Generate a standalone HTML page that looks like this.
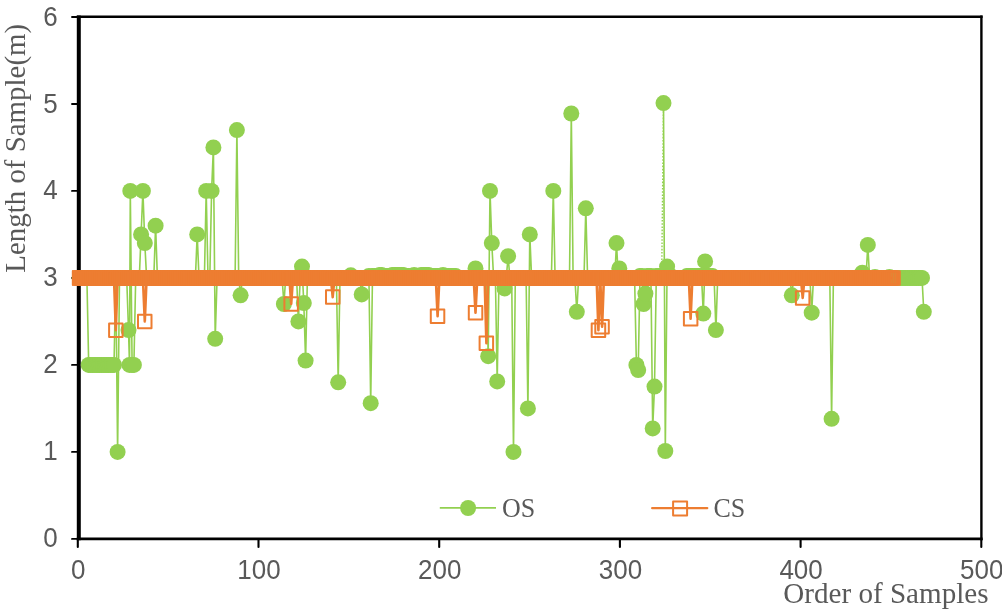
<!DOCTYPE html>
<html><head><meta charset="utf-8"><title>Chart</title>
<style>html,body{margin:0;padding:0;background:#fff}svg{display:block}</style></head>
<body>
<svg width="1002" height="612" viewBox="0 0 1002 612">
<rect width="1002" height="612" fill="#fff"/>
<g stroke="#000" fill="none">
<line x1="78.8" y1="15.5" x2="78.8" y2="540.2" stroke-width="4"/>
<line x1="76.8" y1="538.86" x2="982.6" y2="538.86" stroke-width="2.7"/>
<line x1="76.8" y1="16.7" x2="982.6" y2="16.7" stroke-width="2.4"/>
<line x1="981.4" y1="15.5" x2="981.4" y2="540.2" stroke-width="2.4"/>
<g stroke-linecap="round">
<line x1="72" y1="538.9" x2="78" y2="538.9" stroke-width="1.9"/>
<line x1="72" y1="451.9" x2="78" y2="451.9" stroke-width="1.9"/>
<line x1="72" y1="364.9" x2="78" y2="364.9" stroke-width="1.9"/>
<line x1="72" y1="277.9" x2="78" y2="277.9" stroke-width="1.9"/>
<line x1="72" y1="190.9" x2="78" y2="190.9" stroke-width="1.9"/>
<line x1="72" y1="104.0" x2="78" y2="104.0" stroke-width="1.9"/>
<line x1="72" y1="17.0" x2="78" y2="17.0" stroke-width="1.9"/>
<line x1="77.8" y1="539" x2="77.8" y2="547" stroke-width="2.1"/>
<line x1="258.5" y1="539" x2="258.5" y2="547" stroke-width="2.1"/>
<line x1="439.2" y1="539" x2="439.2" y2="547" stroke-width="2.1"/>
<line x1="619.9" y1="539" x2="619.9" y2="547" stroke-width="2.1"/>
<line x1="800.6" y1="539" x2="800.6" y2="547" stroke-width="2.1"/>
<line x1="981.3" y1="539" x2="981.3" y2="547" stroke-width="2.1"/>
</g></g>
<polyline points="79.7,277.9 81.5,277.9 83.3,277.9 85.1,277.9 86.9,277.9 88.7,364.9 90.5,364.9 92.3,364.9 94.1,364.9 96.0,364.9 97.8,364.9 99.6,364.9 101.4,364.9 103.2,364.9 105.0,364.9 106.8,364.9 108.6,364.9 110.4,364.9 112.2,364.9 114.0,364.9 115.8,277.9 117.6,451.9 119.5,277.9 121.3,277.9 123.1,277.9 124.9,277.9 126.7,277.9 128.5,330.1 129.5,364.9 130.3,190.9 132.1,364.9 133.9,364.9 135.7,277.9 137.5,277.9 139.3,277.9 141.1,234.4 142.9,190.9 144.8,243.1 146.6,277.9 148.4,277.9 150.2,277.9 152.0,277.9 153.8,277.9 155.6,225.7 157.4,277.9 159.2,277.9 161.0,277.9 162.8,277.9 164.6,277.9 166.4,277.9 168.3,277.9 170.1,277.9 171.9,277.9 173.7,277.9 175.5,277.9 177.3,277.9 179.1,277.9 180.9,277.9 182.7,277.9 184.5,277.9 186.3,277.9 188.1,277.9 189.9,277.9 191.8,277.9 193.6,277.9 195.4,277.9 197.2,234.4 199.0,277.9 200.8,277.9 202.6,277.9 204.4,277.9 206.2,190.9 208.0,277.9 209.8,277.9 211.6,190.9 213.4,147.4 215.2,338.8 217.1,277.9 218.9,277.9 220.7,277.9 222.5,277.9 224.3,277.9 226.1,277.9 227.9,277.9 229.7,277.9 231.5,277.9 233.3,277.9 235.1,277.9 236.9,130.1 238.7,277.9 240.6,295.3 242.4,277.9 244.2,277.9 246.0,277.9 247.8,277.9 249.6,277.9 251.4,277.9 253.2,277.9 255.0,277.9 256.8,277.9 258.6,277.9 260.4,277.9 262.2,277.9 264.1,277.9 265.9,277.9 267.7,277.9 269.5,277.9 271.3,277.9 273.1,277.9 274.9,277.9 276.7,277.9 278.5,277.9 280.3,277.9 282.1,277.9 283.9,304.0 285.7,277.9 287.6,277.9 289.4,277.9 291.2,277.9 293.0,277.9 294.8,277.9 296.6,277.9 298.4,321.4 300.2,277.9 302.0,266.6 303.8,303.1 305.6,360.6 307.4,277.9 309.2,277.9 311.0,277.9 312.9,277.9 314.7,277.9 316.5,277.9 318.3,277.9 320.1,277.9 321.9,277.9 323.7,277.9 325.5,277.9 327.3,277.9 329.1,277.9 330.9,277.9 332.7,277.9 334.5,277.9 336.4,277.9 338.2,382.3 340.0,277.9 341.8,277.9 343.6,277.9 345.4,277.9 347.2,277.9 349.0,277.9 350.8,275.3 352.6,277.9 354.4,277.9 356.2,277.9 358.0,277.9 359.9,277.9 361.7,294.4 363.5,277.9 365.3,277.9 367.1,277.9 368.9,276.0 370.7,403.2 372.5,276.0 374.3,276.0 376.1,276.0 377.9,276.0 379.7,274.9 381.5,274.9 383.3,276.0 385.2,276.0 387.0,276.0 388.8,276.0 390.6,276.0 392.4,274.9 394.2,274.9 396.0,274.9 397.8,274.9 399.6,274.9 401.4,274.9 403.2,274.9 405.0,276.0 406.8,276.0 408.7,276.0 410.5,276.0 412.3,276.0 414.1,274.9 415.9,276.0 417.7,276.0 419.5,276.0 421.3,274.9 423.1,274.9 424.9,274.9 426.7,274.9 428.5,274.9 430.3,276.0 432.2,276.0 434.0,276.0 435.8,276.0 437.6,276.0 439.4,276.0 441.2,276.0 443.0,274.9 444.8,276.0 446.6,276.0 448.4,276.0 450.2,276.0 452.0,276.0 453.8,276.0 455.6,276.0 457.5,277.9 459.3,277.9 461.1,277.9 462.9,277.9 464.7,277.9 466.5,277.9 468.3,277.9 470.1,277.9 471.9,277.9 473.7,277.9 475.5,268.4 477.3,277.9 479.1,277.9 481.0,277.9 482.8,277.9 484.6,277.9 486.4,277.9 488.2,356.2 490.0,190.9 491.8,243.1 493.6,277.9 495.4,277.9 497.2,381.4 499.0,277.9 500.8,277.9 502.6,277.9 504.5,288.4 506.3,277.9 508.1,256.2 509.9,277.9 511.7,277.9 513.5,451.9 515.3,277.9 517.1,277.9 518.9,277.9 520.7,277.9 522.5,277.9 524.3,277.9 526.1,277.9 527.9,408.4 529.8,234.4 531.6,277.9 533.4,277.9 535.2,277.9 537.0,277.9 538.8,277.9 540.6,277.9 542.4,277.9 544.2,277.9 546.0,277.9 547.8,277.9 549.6,277.9 551.4,277.9 553.3,190.9 555.1,277.9 556.9,277.9 558.7,277.9 560.5,277.9 562.3,277.9 564.1,277.9 565.9,277.9 567.7,277.9 569.5,277.9 571.3,113.5 573.1,277.9 574.9,277.9 576.8,311.8 578.6,277.9 580.4,277.9 582.2,277.9 584.0,277.9 585.8,208.3 587.6,277.9 589.4,277.9 591.2,277.9 593.0,277.9 594.8,277.9 596.6,277.9 598.4,277.9 600.2,277.9 602.1,277.9 603.9,277.9 605.7,277.9 607.5,277.9 609.3,277.9 611.1,277.9 612.9,277.9 614.7,277.9 616.5,243.1 618.3,277.9 619.3,268.4 620.1,277.9 621.9,277.9 623.7,277.9 625.6,277.9 627.4,277.9 629.2,277.9 631.0,277.9 632.8,277.9 634.6,277.9 636.4,364.9 638.2,370.1 640.0,276.0 641.8,276.0 643.6,304.0 645.4,293.6 647.2,276.0 649.1,276.0 650.9,276.0 652.7,428.4 654.5,386.6 656.3,276.0 658.1,276.0 659.9,276.0 661.7,276.0" fill="none" stroke="#92D050" stroke-width="1.6" stroke-linejoin="round"/>
<polyline points="663.5,103.1 665.3,451.0 667.1,266.6 668.9,276.0 670.7,276.0 672.5,277.9 674.4,277.9 676.2,277.9 678.0,277.9 679.8,277.9 681.6,277.9 683.4,277.9 685.2,277.9 687.0,276.0 688.8,276.0 690.6,276.0 692.4,276.0 694.2,276.0 696.0,276.0 697.9,276.0 699.7,276.0 701.5,276.0 703.3,313.6 705.1,261.4 706.9,276.0 708.7,276.0 710.5,276.0 712.3,276.0 714.1,277.9 715.9,330.1 717.7,277.9 719.5,277.9 721.4,277.9 723.2,277.9 725.0,277.9 726.8,277.9 728.6,277.9 730.4,277.9 732.2,277.9 734.0,277.9 735.8,277.9 737.6,277.9 739.4,277.9 741.2,277.9 743.0,277.9 744.8,277.9 746.7,277.9 748.5,277.9 750.3,277.9 752.1,277.9 753.9,277.9 755.7,277.9 757.5,277.9 759.3,277.9 761.1,277.9 762.9,277.9 764.7,277.9 766.5,277.9 768.3,277.9 770.2,277.9 772.0,277.9 773.8,277.9 775.6,277.9 777.4,277.9 779.2,277.9 781.0,277.9 782.8,277.9 784.6,277.9 786.4,277.9 788.2,277.9 790.0,277.9 791.8,295.3 793.7,277.9 795.5,277.9 797.3,277.9 799.1,277.9 800.9,277.9 802.7,277.9 804.5,277.9 806.3,277.9 808.1,277.9 809.9,277.9 811.7,312.7 813.5,277.9 815.3,277.9 817.1,277.9 819.0,277.9 820.8,277.9 822.6,277.9 824.4,277.9 826.2,277.9 828.0,277.9 829.8,277.9 831.6,418.8 833.4,277.9 835.2,277.9 837.0,277.9 838.8,277.9 840.6,277.9 842.5,277.9 844.3,277.9 846.1,277.9 847.9,277.9 849.7,277.9 851.5,277.9 853.3,277.9 855.1,277.9 856.9,277.9 858.7,277.9 860.5,277.9 862.3,272.7 864.1,277.9 866.0,277.9 867.8,244.9 869.6,277.9 871.4,277.9 873.2,277.9 875.0,277.1 876.8,277.9 878.6,277.9 880.4,277.9 882.2,277.9 884.0,277.9 885.8,277.9 887.6,277.9 889.4,277.1 891.3,277.9 893.1,277.9 894.9,277.9 896.7,277.9 898.5,277.9 900.3,277.9 902.1,277.9 903.9,277.9 905.7,277.9 907.5,277.9 909.3,277.9 911.1,277.9 912.9,277.9 914.8,277.9 916.6,277.9 918.4,277.9 920.2,277.9 922.0,277.9 923.8,311.8" fill="none" stroke="#92D050" stroke-width="1.6" stroke-linejoin="round"/>
<line x1="661.7" y1="276.0" x2="663.5" y2="103.1" stroke="#92D050" stroke-width="1.4" stroke-dasharray="1.6 1.6"/>
<g fill="#92D050">
<circle cx="79.7" cy="277.9" r="8.0"/>
<circle cx="81.5" cy="277.9" r="8.0"/>
<circle cx="83.3" cy="277.9" r="8.0"/>
<circle cx="85.1" cy="277.9" r="8.0"/>
<circle cx="86.9" cy="277.9" r="8.0"/>
<circle cx="88.7" cy="364.9" r="8.0"/>
<circle cx="90.5" cy="364.9" r="8.0"/>
<circle cx="92.3" cy="364.9" r="8.0"/>
<circle cx="94.1" cy="364.9" r="8.0"/>
<circle cx="96.0" cy="364.9" r="8.0"/>
<circle cx="97.8" cy="364.9" r="8.0"/>
<circle cx="99.6" cy="364.9" r="8.0"/>
<circle cx="101.4" cy="364.9" r="8.0"/>
<circle cx="103.2" cy="364.9" r="8.0"/>
<circle cx="105.0" cy="364.9" r="8.0"/>
<circle cx="106.8" cy="364.9" r="8.0"/>
<circle cx="108.6" cy="364.9" r="8.0"/>
<circle cx="110.4" cy="364.9" r="8.0"/>
<circle cx="112.2" cy="364.9" r="8.0"/>
<circle cx="114.0" cy="364.9" r="8.0"/>
<circle cx="115.8" cy="277.9" r="8.0"/>
<circle cx="117.6" cy="451.9" r="8.0"/>
<circle cx="119.5" cy="277.9" r="8.0"/>
<circle cx="121.3" cy="277.9" r="8.0"/>
<circle cx="123.1" cy="277.9" r="8.0"/>
<circle cx="124.9" cy="277.9" r="8.0"/>
<circle cx="126.7" cy="277.9" r="8.0"/>
<circle cx="128.5" cy="330.1" r="8.0"/>
<circle cx="129.5" cy="364.9" r="8.0"/>
<circle cx="130.3" cy="190.9" r="8.0"/>
<circle cx="132.1" cy="364.9" r="8.0"/>
<circle cx="133.9" cy="364.9" r="8.0"/>
<circle cx="135.7" cy="277.9" r="8.0"/>
<circle cx="137.5" cy="277.9" r="8.0"/>
<circle cx="139.3" cy="277.9" r="8.0"/>
<circle cx="141.1" cy="234.4" r="8.0"/>
<circle cx="142.9" cy="190.9" r="8.0"/>
<circle cx="144.8" cy="243.1" r="8.0"/>
<circle cx="146.6" cy="277.9" r="8.0"/>
<circle cx="148.4" cy="277.9" r="8.0"/>
<circle cx="150.2" cy="277.9" r="8.0"/>
<circle cx="152.0" cy="277.9" r="8.0"/>
<circle cx="153.8" cy="277.9" r="8.0"/>
<circle cx="155.6" cy="225.7" r="8.0"/>
<circle cx="157.4" cy="277.9" r="8.0"/>
<circle cx="159.2" cy="277.9" r="8.0"/>
<circle cx="161.0" cy="277.9" r="8.0"/>
<circle cx="162.8" cy="277.9" r="8.0"/>
<circle cx="164.6" cy="277.9" r="8.0"/>
<circle cx="166.4" cy="277.9" r="8.0"/>
<circle cx="168.3" cy="277.9" r="8.0"/>
<circle cx="170.1" cy="277.9" r="8.0"/>
<circle cx="171.9" cy="277.9" r="8.0"/>
<circle cx="173.7" cy="277.9" r="8.0"/>
<circle cx="175.5" cy="277.9" r="8.0"/>
<circle cx="177.3" cy="277.9" r="8.0"/>
<circle cx="179.1" cy="277.9" r="8.0"/>
<circle cx="180.9" cy="277.9" r="8.0"/>
<circle cx="182.7" cy="277.9" r="8.0"/>
<circle cx="184.5" cy="277.9" r="8.0"/>
<circle cx="186.3" cy="277.9" r="8.0"/>
<circle cx="188.1" cy="277.9" r="8.0"/>
<circle cx="189.9" cy="277.9" r="8.0"/>
<circle cx="191.8" cy="277.9" r="8.0"/>
<circle cx="193.6" cy="277.9" r="8.0"/>
<circle cx="195.4" cy="277.9" r="8.0"/>
<circle cx="197.2" cy="234.4" r="8.0"/>
<circle cx="199.0" cy="277.9" r="8.0"/>
<circle cx="200.8" cy="277.9" r="8.0"/>
<circle cx="202.6" cy="277.9" r="8.0"/>
<circle cx="204.4" cy="277.9" r="8.0"/>
<circle cx="206.2" cy="190.9" r="8.0"/>
<circle cx="208.0" cy="277.9" r="8.0"/>
<circle cx="209.8" cy="277.9" r="8.0"/>
<circle cx="211.6" cy="190.9" r="8.0"/>
<circle cx="213.4" cy="147.4" r="8.0"/>
<circle cx="215.2" cy="338.8" r="8.0"/>
<circle cx="217.1" cy="277.9" r="8.0"/>
<circle cx="218.9" cy="277.9" r="8.0"/>
<circle cx="220.7" cy="277.9" r="8.0"/>
<circle cx="222.5" cy="277.9" r="8.0"/>
<circle cx="224.3" cy="277.9" r="8.0"/>
<circle cx="226.1" cy="277.9" r="8.0"/>
<circle cx="227.9" cy="277.9" r="8.0"/>
<circle cx="229.7" cy="277.9" r="8.0"/>
<circle cx="231.5" cy="277.9" r="8.0"/>
<circle cx="233.3" cy="277.9" r="8.0"/>
<circle cx="235.1" cy="277.9" r="8.0"/>
<circle cx="236.9" cy="130.1" r="8.0"/>
<circle cx="238.7" cy="277.9" r="8.0"/>
<circle cx="240.6" cy="295.3" r="8.0"/>
<circle cx="242.4" cy="277.9" r="8.0"/>
<circle cx="244.2" cy="277.9" r="8.0"/>
<circle cx="246.0" cy="277.9" r="8.0"/>
<circle cx="247.8" cy="277.9" r="8.0"/>
<circle cx="249.6" cy="277.9" r="8.0"/>
<circle cx="251.4" cy="277.9" r="8.0"/>
<circle cx="253.2" cy="277.9" r="8.0"/>
<circle cx="255.0" cy="277.9" r="8.0"/>
<circle cx="256.8" cy="277.9" r="8.0"/>
<circle cx="258.6" cy="277.9" r="8.0"/>
<circle cx="260.4" cy="277.9" r="8.0"/>
<circle cx="262.2" cy="277.9" r="8.0"/>
<circle cx="264.1" cy="277.9" r="8.0"/>
<circle cx="265.9" cy="277.9" r="8.0"/>
<circle cx="267.7" cy="277.9" r="8.0"/>
<circle cx="269.5" cy="277.9" r="8.0"/>
<circle cx="271.3" cy="277.9" r="8.0"/>
<circle cx="273.1" cy="277.9" r="8.0"/>
<circle cx="274.9" cy="277.9" r="8.0"/>
<circle cx="276.7" cy="277.9" r="8.0"/>
<circle cx="278.5" cy="277.9" r="8.0"/>
<circle cx="280.3" cy="277.9" r="8.0"/>
<circle cx="282.1" cy="277.9" r="8.0"/>
<circle cx="283.9" cy="304.0" r="8.0"/>
<circle cx="285.7" cy="277.9" r="8.0"/>
<circle cx="287.6" cy="277.9" r="8.0"/>
<circle cx="289.4" cy="277.9" r="8.0"/>
<circle cx="291.2" cy="277.9" r="8.0"/>
<circle cx="293.0" cy="277.9" r="8.0"/>
<circle cx="294.8" cy="277.9" r="8.0"/>
<circle cx="296.6" cy="277.9" r="8.0"/>
<circle cx="298.4" cy="321.4" r="8.0"/>
<circle cx="300.2" cy="277.9" r="8.0"/>
<circle cx="302.0" cy="266.6" r="8.0"/>
<circle cx="303.8" cy="303.1" r="8.0"/>
<circle cx="305.6" cy="360.6" r="8.0"/>
<circle cx="307.4" cy="277.9" r="8.0"/>
<circle cx="309.2" cy="277.9" r="8.0"/>
<circle cx="311.0" cy="277.9" r="8.0"/>
<circle cx="312.9" cy="277.9" r="8.0"/>
<circle cx="314.7" cy="277.9" r="8.0"/>
<circle cx="316.5" cy="277.9" r="8.0"/>
<circle cx="318.3" cy="277.9" r="8.0"/>
<circle cx="320.1" cy="277.9" r="8.0"/>
<circle cx="321.9" cy="277.9" r="8.0"/>
<circle cx="323.7" cy="277.9" r="8.0"/>
<circle cx="325.5" cy="277.9" r="8.0"/>
<circle cx="327.3" cy="277.9" r="8.0"/>
<circle cx="329.1" cy="277.9" r="8.0"/>
<circle cx="330.9" cy="277.9" r="8.0"/>
<circle cx="332.7" cy="277.9" r="8.0"/>
<circle cx="334.5" cy="277.9" r="8.0"/>
<circle cx="336.4" cy="277.9" r="8.0"/>
<circle cx="338.2" cy="382.3" r="8.0"/>
<circle cx="340.0" cy="277.9" r="8.0"/>
<circle cx="341.8" cy="277.9" r="8.0"/>
<circle cx="343.6" cy="277.9" r="8.0"/>
<circle cx="345.4" cy="277.9" r="8.0"/>
<circle cx="347.2" cy="277.9" r="8.0"/>
<circle cx="349.0" cy="277.9" r="8.0"/>
<circle cx="350.8" cy="275.3" r="8.0"/>
<circle cx="352.6" cy="277.9" r="8.0"/>
<circle cx="354.4" cy="277.9" r="8.0"/>
<circle cx="356.2" cy="277.9" r="8.0"/>
<circle cx="358.0" cy="277.9" r="8.0"/>
<circle cx="359.9" cy="277.9" r="8.0"/>
<circle cx="361.7" cy="294.4" r="8.0"/>
<circle cx="363.5" cy="277.9" r="8.0"/>
<circle cx="365.3" cy="277.9" r="8.0"/>
<circle cx="367.1" cy="277.9" r="8.0"/>
<circle cx="368.9" cy="276.0" r="8.0"/>
<circle cx="370.7" cy="403.2" r="8.0"/>
<circle cx="372.5" cy="276.0" r="8.0"/>
<circle cx="374.3" cy="276.0" r="8.0"/>
<circle cx="376.1" cy="276.0" r="8.0"/>
<circle cx="377.9" cy="276.0" r="8.0"/>
<circle cx="379.7" cy="274.9" r="8.0"/>
<circle cx="381.5" cy="274.9" r="8.0"/>
<circle cx="383.3" cy="276.0" r="8.0"/>
<circle cx="385.2" cy="276.0" r="8.0"/>
<circle cx="387.0" cy="276.0" r="8.0"/>
<circle cx="388.8" cy="276.0" r="8.0"/>
<circle cx="390.6" cy="276.0" r="8.0"/>
<circle cx="392.4" cy="274.9" r="8.0"/>
<circle cx="394.2" cy="274.9" r="8.0"/>
<circle cx="396.0" cy="274.9" r="8.0"/>
<circle cx="397.8" cy="274.9" r="8.0"/>
<circle cx="399.6" cy="274.9" r="8.0"/>
<circle cx="401.4" cy="274.9" r="8.0"/>
<circle cx="403.2" cy="274.9" r="8.0"/>
<circle cx="405.0" cy="276.0" r="8.0"/>
<circle cx="406.8" cy="276.0" r="8.0"/>
<circle cx="408.7" cy="276.0" r="8.0"/>
<circle cx="410.5" cy="276.0" r="8.0"/>
<circle cx="412.3" cy="276.0" r="8.0"/>
<circle cx="414.1" cy="274.9" r="8.0"/>
<circle cx="415.9" cy="276.0" r="8.0"/>
<circle cx="417.7" cy="276.0" r="8.0"/>
<circle cx="419.5" cy="276.0" r="8.0"/>
<circle cx="421.3" cy="274.9" r="8.0"/>
<circle cx="423.1" cy="274.9" r="8.0"/>
<circle cx="424.9" cy="274.9" r="8.0"/>
<circle cx="426.7" cy="274.9" r="8.0"/>
<circle cx="428.5" cy="274.9" r="8.0"/>
<circle cx="430.3" cy="276.0" r="8.0"/>
<circle cx="432.2" cy="276.0" r="8.0"/>
<circle cx="434.0" cy="276.0" r="8.0"/>
<circle cx="435.8" cy="276.0" r="8.0"/>
<circle cx="437.6" cy="276.0" r="8.0"/>
<circle cx="439.4" cy="276.0" r="8.0"/>
<circle cx="441.2" cy="276.0" r="8.0"/>
<circle cx="443.0" cy="274.9" r="8.0"/>
<circle cx="444.8" cy="276.0" r="8.0"/>
<circle cx="446.6" cy="276.0" r="8.0"/>
<circle cx="448.4" cy="276.0" r="8.0"/>
<circle cx="450.2" cy="276.0" r="8.0"/>
<circle cx="452.0" cy="276.0" r="8.0"/>
<circle cx="453.8" cy="276.0" r="8.0"/>
<circle cx="455.6" cy="276.0" r="8.0"/>
<circle cx="457.5" cy="277.9" r="8.0"/>
<circle cx="459.3" cy="277.9" r="8.0"/>
<circle cx="461.1" cy="277.9" r="8.0"/>
<circle cx="462.9" cy="277.9" r="8.0"/>
<circle cx="464.7" cy="277.9" r="8.0"/>
<circle cx="466.5" cy="277.9" r="8.0"/>
<circle cx="468.3" cy="277.9" r="8.0"/>
<circle cx="470.1" cy="277.9" r="8.0"/>
<circle cx="471.9" cy="277.9" r="8.0"/>
<circle cx="473.7" cy="277.9" r="8.0"/>
<circle cx="475.5" cy="268.4" r="8.0"/>
<circle cx="477.3" cy="277.9" r="8.0"/>
<circle cx="479.1" cy="277.9" r="8.0"/>
<circle cx="481.0" cy="277.9" r="8.0"/>
<circle cx="482.8" cy="277.9" r="8.0"/>
<circle cx="484.6" cy="277.9" r="8.0"/>
<circle cx="486.4" cy="277.9" r="8.0"/>
<circle cx="488.2" cy="356.2" r="8.0"/>
<circle cx="490.0" cy="190.9" r="8.0"/>
<circle cx="491.8" cy="243.1" r="8.0"/>
<circle cx="493.6" cy="277.9" r="8.0"/>
<circle cx="495.4" cy="277.9" r="8.0"/>
<circle cx="497.2" cy="381.4" r="8.0"/>
<circle cx="499.0" cy="277.9" r="8.0"/>
<circle cx="500.8" cy="277.9" r="8.0"/>
<circle cx="502.6" cy="277.9" r="8.0"/>
<circle cx="504.5" cy="288.4" r="8.0"/>
<circle cx="506.3" cy="277.9" r="8.0"/>
<circle cx="508.1" cy="256.2" r="8.0"/>
<circle cx="509.9" cy="277.9" r="8.0"/>
<circle cx="511.7" cy="277.9" r="8.0"/>
<circle cx="513.5" cy="451.9" r="8.0"/>
<circle cx="515.3" cy="277.9" r="8.0"/>
<circle cx="517.1" cy="277.9" r="8.0"/>
<circle cx="518.9" cy="277.9" r="8.0"/>
<circle cx="520.7" cy="277.9" r="8.0"/>
<circle cx="522.5" cy="277.9" r="8.0"/>
<circle cx="524.3" cy="277.9" r="8.0"/>
<circle cx="526.1" cy="277.9" r="8.0"/>
<circle cx="527.9" cy="408.4" r="8.0"/>
<circle cx="529.8" cy="234.4" r="8.0"/>
<circle cx="531.6" cy="277.9" r="8.0"/>
<circle cx="533.4" cy="277.9" r="8.0"/>
<circle cx="535.2" cy="277.9" r="8.0"/>
<circle cx="537.0" cy="277.9" r="8.0"/>
<circle cx="538.8" cy="277.9" r="8.0"/>
<circle cx="540.6" cy="277.9" r="8.0"/>
<circle cx="542.4" cy="277.9" r="8.0"/>
<circle cx="544.2" cy="277.9" r="8.0"/>
<circle cx="546.0" cy="277.9" r="8.0"/>
<circle cx="547.8" cy="277.9" r="8.0"/>
<circle cx="549.6" cy="277.9" r="8.0"/>
<circle cx="551.4" cy="277.9" r="8.0"/>
<circle cx="553.3" cy="190.9" r="8.0"/>
<circle cx="555.1" cy="277.9" r="8.0"/>
<circle cx="556.9" cy="277.9" r="8.0"/>
<circle cx="558.7" cy="277.9" r="8.0"/>
<circle cx="560.5" cy="277.9" r="8.0"/>
<circle cx="562.3" cy="277.9" r="8.0"/>
<circle cx="564.1" cy="277.9" r="8.0"/>
<circle cx="565.9" cy="277.9" r="8.0"/>
<circle cx="567.7" cy="277.9" r="8.0"/>
<circle cx="569.5" cy="277.9" r="8.0"/>
<circle cx="571.3" cy="113.5" r="8.0"/>
<circle cx="573.1" cy="277.9" r="8.0"/>
<circle cx="574.9" cy="277.9" r="8.0"/>
<circle cx="576.8" cy="311.8" r="8.0"/>
<circle cx="578.6" cy="277.9" r="8.0"/>
<circle cx="580.4" cy="277.9" r="8.0"/>
<circle cx="582.2" cy="277.9" r="8.0"/>
<circle cx="584.0" cy="277.9" r="8.0"/>
<circle cx="585.8" cy="208.3" r="8.0"/>
<circle cx="587.6" cy="277.9" r="8.0"/>
<circle cx="589.4" cy="277.9" r="8.0"/>
<circle cx="591.2" cy="277.9" r="8.0"/>
<circle cx="593.0" cy="277.9" r="8.0"/>
<circle cx="594.8" cy="277.9" r="8.0"/>
<circle cx="596.6" cy="277.9" r="8.0"/>
<circle cx="598.4" cy="277.9" r="8.0"/>
<circle cx="600.2" cy="277.9" r="8.0"/>
<circle cx="602.1" cy="277.9" r="8.0"/>
<circle cx="603.9" cy="277.9" r="8.0"/>
<circle cx="605.7" cy="277.9" r="8.0"/>
<circle cx="607.5" cy="277.9" r="8.0"/>
<circle cx="609.3" cy="277.9" r="8.0"/>
<circle cx="611.1" cy="277.9" r="8.0"/>
<circle cx="612.9" cy="277.9" r="8.0"/>
<circle cx="614.7" cy="277.9" r="8.0"/>
<circle cx="616.5" cy="243.1" r="8.0"/>
<circle cx="618.3" cy="277.9" r="8.0"/>
<circle cx="619.3" cy="268.4" r="8.0"/>
<circle cx="620.1" cy="277.9" r="8.0"/>
<circle cx="621.9" cy="277.9" r="8.0"/>
<circle cx="623.7" cy="277.9" r="8.0"/>
<circle cx="625.6" cy="277.9" r="8.0"/>
<circle cx="627.4" cy="277.9" r="8.0"/>
<circle cx="629.2" cy="277.9" r="8.0"/>
<circle cx="631.0" cy="277.9" r="8.0"/>
<circle cx="632.8" cy="277.9" r="8.0"/>
<circle cx="634.6" cy="277.9" r="8.0"/>
<circle cx="636.4" cy="364.9" r="8.0"/>
<circle cx="638.2" cy="370.1" r="8.0"/>
<circle cx="640.0" cy="276.0" r="8.0"/>
<circle cx="641.8" cy="276.0" r="8.0"/>
<circle cx="643.6" cy="304.0" r="8.0"/>
<circle cx="645.4" cy="293.6" r="8.0"/>
<circle cx="647.2" cy="276.0" r="8.0"/>
<circle cx="649.1" cy="276.0" r="8.0"/>
<circle cx="650.9" cy="276.0" r="8.0"/>
<circle cx="652.7" cy="428.4" r="8.0"/>
<circle cx="654.5" cy="386.6" r="8.0"/>
<circle cx="656.3" cy="276.0" r="8.0"/>
<circle cx="658.1" cy="276.0" r="8.0"/>
<circle cx="659.9" cy="276.0" r="8.0"/>
<circle cx="661.7" cy="276.0" r="8.0"/>
<circle cx="663.5" cy="103.1" r="8.0"/>
<circle cx="665.3" cy="451.0" r="8.0"/>
<circle cx="667.1" cy="266.6" r="8.0"/>
<circle cx="668.9" cy="276.0" r="8.0"/>
<circle cx="670.7" cy="276.0" r="8.0"/>
<circle cx="672.5" cy="277.9" r="8.0"/>
<circle cx="674.4" cy="277.9" r="8.0"/>
<circle cx="676.2" cy="277.9" r="8.0"/>
<circle cx="678.0" cy="277.9" r="8.0"/>
<circle cx="679.8" cy="277.9" r="8.0"/>
<circle cx="681.6" cy="277.9" r="8.0"/>
<circle cx="683.4" cy="277.9" r="8.0"/>
<circle cx="685.2" cy="277.9" r="8.0"/>
<circle cx="687.0" cy="276.0" r="8.0"/>
<circle cx="688.8" cy="276.0" r="8.0"/>
<circle cx="690.6" cy="276.0" r="8.0"/>
<circle cx="692.4" cy="276.0" r="8.0"/>
<circle cx="694.2" cy="276.0" r="8.0"/>
<circle cx="696.0" cy="276.0" r="8.0"/>
<circle cx="697.9" cy="276.0" r="8.0"/>
<circle cx="699.7" cy="276.0" r="8.0"/>
<circle cx="701.5" cy="276.0" r="8.0"/>
<circle cx="703.3" cy="313.6" r="8.0"/>
<circle cx="705.1" cy="261.4" r="8.0"/>
<circle cx="706.9" cy="276.0" r="8.0"/>
<circle cx="708.7" cy="276.0" r="8.0"/>
<circle cx="710.5" cy="276.0" r="8.0"/>
<circle cx="712.3" cy="276.0" r="8.0"/>
<circle cx="714.1" cy="277.9" r="8.0"/>
<circle cx="715.9" cy="330.1" r="8.0"/>
<circle cx="717.7" cy="277.9" r="8.0"/>
<circle cx="719.5" cy="277.9" r="8.0"/>
<circle cx="721.4" cy="277.9" r="8.0"/>
<circle cx="723.2" cy="277.9" r="8.0"/>
<circle cx="725.0" cy="277.9" r="8.0"/>
<circle cx="726.8" cy="277.9" r="8.0"/>
<circle cx="728.6" cy="277.9" r="8.0"/>
<circle cx="730.4" cy="277.9" r="8.0"/>
<circle cx="732.2" cy="277.9" r="8.0"/>
<circle cx="734.0" cy="277.9" r="8.0"/>
<circle cx="735.8" cy="277.9" r="8.0"/>
<circle cx="737.6" cy="277.9" r="8.0"/>
<circle cx="739.4" cy="277.9" r="8.0"/>
<circle cx="741.2" cy="277.9" r="8.0"/>
<circle cx="743.0" cy="277.9" r="8.0"/>
<circle cx="744.8" cy="277.9" r="8.0"/>
<circle cx="746.7" cy="277.9" r="8.0"/>
<circle cx="748.5" cy="277.9" r="8.0"/>
<circle cx="750.3" cy="277.9" r="8.0"/>
<circle cx="752.1" cy="277.9" r="8.0"/>
<circle cx="753.9" cy="277.9" r="8.0"/>
<circle cx="755.7" cy="277.9" r="8.0"/>
<circle cx="757.5" cy="277.9" r="8.0"/>
<circle cx="759.3" cy="277.9" r="8.0"/>
<circle cx="761.1" cy="277.9" r="8.0"/>
<circle cx="762.9" cy="277.9" r="8.0"/>
<circle cx="764.7" cy="277.9" r="8.0"/>
<circle cx="766.5" cy="277.9" r="8.0"/>
<circle cx="768.3" cy="277.9" r="8.0"/>
<circle cx="770.2" cy="277.9" r="8.0"/>
<circle cx="772.0" cy="277.9" r="8.0"/>
<circle cx="773.8" cy="277.9" r="8.0"/>
<circle cx="775.6" cy="277.9" r="8.0"/>
<circle cx="777.4" cy="277.9" r="8.0"/>
<circle cx="779.2" cy="277.9" r="8.0"/>
<circle cx="781.0" cy="277.9" r="8.0"/>
<circle cx="782.8" cy="277.9" r="8.0"/>
<circle cx="784.6" cy="277.9" r="8.0"/>
<circle cx="786.4" cy="277.9" r="8.0"/>
<circle cx="788.2" cy="277.9" r="8.0"/>
<circle cx="790.0" cy="277.9" r="8.0"/>
<circle cx="791.8" cy="295.3" r="8.0"/>
<circle cx="793.7" cy="277.9" r="8.0"/>
<circle cx="795.5" cy="277.9" r="8.0"/>
<circle cx="797.3" cy="277.9" r="8.0"/>
<circle cx="799.1" cy="277.9" r="8.0"/>
<circle cx="800.9" cy="277.9" r="8.0"/>
<circle cx="802.7" cy="277.9" r="8.0"/>
<circle cx="804.5" cy="277.9" r="8.0"/>
<circle cx="806.3" cy="277.9" r="8.0"/>
<circle cx="808.1" cy="277.9" r="8.0"/>
<circle cx="809.9" cy="277.9" r="8.0"/>
<circle cx="811.7" cy="312.7" r="8.0"/>
<circle cx="813.5" cy="277.9" r="8.0"/>
<circle cx="815.3" cy="277.9" r="8.0"/>
<circle cx="817.1" cy="277.9" r="8.0"/>
<circle cx="819.0" cy="277.9" r="8.0"/>
<circle cx="820.8" cy="277.9" r="8.0"/>
<circle cx="822.6" cy="277.9" r="8.0"/>
<circle cx="824.4" cy="277.9" r="8.0"/>
<circle cx="826.2" cy="277.9" r="8.0"/>
<circle cx="828.0" cy="277.9" r="8.0"/>
<circle cx="829.8" cy="277.9" r="8.0"/>
<circle cx="831.6" cy="418.8" r="8.0"/>
<circle cx="833.4" cy="277.9" r="8.0"/>
<circle cx="835.2" cy="277.9" r="8.0"/>
<circle cx="837.0" cy="277.9" r="8.0"/>
<circle cx="838.8" cy="277.9" r="8.0"/>
<circle cx="840.6" cy="277.9" r="8.0"/>
<circle cx="842.5" cy="277.9" r="8.0"/>
<circle cx="844.3" cy="277.9" r="8.0"/>
<circle cx="846.1" cy="277.9" r="8.0"/>
<circle cx="847.9" cy="277.9" r="8.0"/>
<circle cx="849.7" cy="277.9" r="8.0"/>
<circle cx="851.5" cy="277.9" r="8.0"/>
<circle cx="853.3" cy="277.9" r="8.0"/>
<circle cx="855.1" cy="277.9" r="8.0"/>
<circle cx="856.9" cy="277.9" r="8.0"/>
<circle cx="858.7" cy="277.9" r="8.0"/>
<circle cx="860.5" cy="277.9" r="8.0"/>
<circle cx="862.3" cy="272.7" r="8.0"/>
<circle cx="864.1" cy="277.9" r="8.0"/>
<circle cx="866.0" cy="277.9" r="8.0"/>
<circle cx="867.8" cy="244.9" r="8.0"/>
<circle cx="869.6" cy="277.9" r="8.0"/>
<circle cx="871.4" cy="277.9" r="8.0"/>
<circle cx="873.2" cy="277.9" r="8.0"/>
<circle cx="875.0" cy="277.1" r="8.0"/>
<circle cx="876.8" cy="277.9" r="8.0"/>
<circle cx="878.6" cy="277.9" r="8.0"/>
<circle cx="880.4" cy="277.9" r="8.0"/>
<circle cx="882.2" cy="277.9" r="8.0"/>
<circle cx="884.0" cy="277.9" r="8.0"/>
<circle cx="885.8" cy="277.9" r="8.0"/>
<circle cx="887.6" cy="277.9" r="8.0"/>
<circle cx="889.4" cy="277.1" r="8.0"/>
<circle cx="891.3" cy="277.9" r="8.0"/>
<circle cx="893.1" cy="277.9" r="8.0"/>
<circle cx="894.9" cy="277.9" r="8.0"/>
<circle cx="896.7" cy="277.9" r="8.0"/>
<circle cx="898.5" cy="277.9" r="8.0"/>
<circle cx="900.3" cy="277.9" r="8.0"/>
<circle cx="902.1" cy="277.9" r="8.0"/>
<circle cx="903.9" cy="277.9" r="8.0"/>
<circle cx="905.7" cy="277.9" r="8.0"/>
<circle cx="907.5" cy="277.9" r="8.0"/>
<circle cx="909.3" cy="277.9" r="8.0"/>
<circle cx="911.1" cy="277.9" r="8.0"/>
<circle cx="912.9" cy="277.9" r="8.0"/>
<circle cx="914.8" cy="277.9" r="8.0"/>
<circle cx="916.6" cy="277.9" r="8.0"/>
<circle cx="918.4" cy="277.9" r="8.0"/>
<circle cx="920.2" cy="277.9" r="8.0"/>
<circle cx="922.0" cy="277.9" r="8.0"/>
<circle cx="923.8" cy="311.8" r="8.0"/>
</g>
<polyline points="79.7,277.9 81.5,277.9 83.3,277.9 85.1,277.9 86.9,277.9 88.7,277.9 90.5,277.9 92.3,277.9 94.1,277.9 96.0,277.9 97.8,277.9 99.6,277.9 101.4,277.9 103.2,277.9 105.0,277.9 106.8,277.9 108.6,277.9 110.4,277.9 112.2,277.9 114.0,277.9 115.8,330.1 117.6,277.9 119.5,277.9 121.3,277.9 123.1,277.9 124.9,277.9 126.7,277.9 128.5,277.9 130.3,277.9 132.1,277.9 133.9,277.9 135.7,277.9 137.5,277.9 139.3,277.9 141.1,277.9 142.9,277.9 144.8,321.4 146.6,277.9 148.4,277.9 150.2,277.9 152.0,277.9 153.8,277.9 155.6,277.9 157.4,277.9 159.2,277.9 161.0,277.9 162.8,277.9 164.6,277.9 166.4,277.9 168.3,277.9 170.1,277.9 171.9,277.9 173.7,277.9 175.5,277.9 177.3,277.9 179.1,277.9 180.9,277.9 182.7,277.9 184.5,277.9 186.3,277.9 188.1,277.9 189.9,277.9 191.8,277.9 193.6,277.9 195.4,277.9 197.2,277.9 199.0,277.9 200.8,277.9 202.6,277.9 204.4,277.9 206.2,277.9 208.0,277.9 209.8,277.9 211.6,277.9 213.4,277.9 215.2,277.9 217.1,277.9 218.9,277.9 220.7,277.9 222.5,277.9 224.3,277.9 226.1,277.9 227.9,277.9 229.7,277.9 231.5,277.9 233.3,277.9 235.1,277.9 236.9,277.9 238.7,277.9 240.6,277.9 242.4,277.9 244.2,277.9 246.0,277.9 247.8,277.9 249.6,277.9 251.4,277.9 253.2,277.9 255.0,277.9 256.8,277.9 258.6,277.9 260.4,277.9 262.2,277.9 264.1,277.9 265.9,277.9 267.7,277.9 269.5,277.9 271.3,277.9 273.1,277.9 274.9,277.9 276.7,277.9 278.5,277.9 280.3,277.9 282.1,277.9 283.9,277.9 285.7,277.9 287.6,277.9 289.4,277.9 291.2,304.0 293.0,277.9 294.8,277.9 296.6,277.9 298.4,277.9 300.2,277.9 302.0,277.9 303.8,277.9 305.6,277.9 307.4,277.9 309.2,277.9 311.0,277.9 312.9,277.9 314.7,277.9 316.5,277.9 318.3,277.9 320.1,277.9 321.9,277.9 323.7,277.9 325.5,277.9 327.3,277.9 329.1,277.9 330.9,277.9 332.7,297.1 334.5,277.9 336.4,277.9 338.2,277.9 340.0,277.9 341.8,277.9 343.6,277.9 345.4,277.9 347.2,277.9 349.0,277.9 350.8,277.9 352.6,277.9 354.4,277.9 356.2,277.9 358.0,277.9 359.9,277.9 361.7,277.9 363.5,277.9 365.3,277.9 367.1,277.9 368.9,277.9 370.7,277.9 372.5,277.9 374.3,277.9 376.1,277.9 377.9,277.9 379.7,277.9 381.5,277.9 383.3,277.9 385.2,277.9 387.0,277.9 388.8,277.9 390.6,277.9 392.4,277.9 394.2,277.9 396.0,277.9 397.8,277.9 399.6,277.9 401.4,277.9 403.2,277.9 405.0,277.9 406.8,277.9 408.7,277.9 410.5,277.9 412.3,277.9 414.1,277.9 415.9,277.9 417.7,277.9 419.5,277.9 421.3,277.9 423.1,277.9 424.9,277.9 426.7,277.9 428.5,277.9 430.3,277.9 432.2,277.9 434.0,277.9 435.8,277.9 437.6,316.2 439.4,277.9 441.2,277.9 443.0,277.9 444.8,277.9 446.6,277.9 448.4,277.9 450.2,277.9 452.0,277.9 453.8,277.9 455.6,277.9 457.5,277.9 459.3,277.9 461.1,277.9 462.9,277.9 464.7,277.9 466.5,277.9 468.3,277.9 470.1,277.9 471.9,277.9 473.7,277.9 475.5,312.7 477.3,277.9 479.1,277.9 481.0,277.9 482.8,277.9 484.6,277.9 486.4,343.2 488.2,277.9 490.0,277.9 491.8,277.9 493.6,277.9 495.4,277.9 497.2,277.9 499.0,277.9 500.8,277.9 502.6,277.9 504.5,277.9 506.3,277.9 508.1,277.9 509.9,277.9 511.7,277.9 513.5,277.9 515.3,277.9 517.1,277.9 518.9,277.9 520.7,277.9 522.5,277.9 524.3,277.9 526.1,277.9 527.9,277.9 529.8,277.9 531.6,277.9 533.4,277.9 535.2,277.9 537.0,277.9 538.8,277.9 540.6,277.9 542.4,277.9 544.2,277.9 546.0,277.9 547.8,277.9 549.6,277.9 551.4,277.9 553.3,277.9 555.1,277.9 556.9,277.9 558.7,277.9 560.5,277.9 562.3,277.9 564.1,277.9 565.9,277.9 567.7,277.9 569.5,277.9 571.3,277.9 573.1,277.9 574.9,277.9 576.8,277.9 578.6,277.9 580.4,277.9 582.2,277.9 584.0,277.9 585.8,277.9 587.6,277.9 589.4,277.9 591.2,277.9 593.0,277.9 594.8,277.9 596.6,277.9 598.4,330.1 600.2,277.9 602.1,326.6 603.9,277.9 605.7,277.9 607.5,277.9 609.3,277.9 611.1,277.9 612.9,277.9 614.7,277.9 616.5,277.9 618.3,277.9 620.1,277.9 621.9,277.9 623.7,277.9 625.6,277.9 627.4,277.9 629.2,277.9 631.0,277.9 632.8,277.9 634.6,277.9 636.4,277.9 638.2,277.9 640.0,277.9 641.8,277.9 643.6,277.9 645.4,277.9 647.2,277.9 649.1,277.9 650.9,277.9 652.7,277.9 654.5,277.9 656.3,277.9 658.1,277.9 659.9,277.9 661.7,277.9 663.5,277.9 665.3,277.9 667.1,277.9 668.9,277.9 670.7,277.9 672.5,277.9 674.4,277.9 676.2,277.9 678.0,277.9 679.8,277.9 681.6,277.9 683.4,277.9 685.2,277.9 687.0,277.9 688.8,277.9 690.6,318.8 692.4,277.9 694.2,277.9 696.0,277.9 697.9,277.9 699.7,277.9 701.5,277.9 703.3,277.9 705.1,277.9 706.9,277.9 708.7,277.9 710.5,277.9 712.3,277.9 714.1,277.9 715.9,277.9 717.7,277.9 719.5,277.9 721.4,277.9 723.2,277.9 725.0,277.9 726.8,277.9 728.6,277.9 730.4,277.9 732.2,277.9 734.0,277.9 735.8,277.9 737.6,277.9 739.4,277.9 741.2,277.9 743.0,277.9 744.8,277.9 746.7,277.9 748.5,277.9 750.3,277.9 752.1,277.9 753.9,277.9 755.7,277.9 757.5,277.9 759.3,277.9 761.1,277.9 762.9,277.9 764.7,277.9 766.5,277.9 768.3,277.9 770.2,277.9 772.0,277.9 773.8,277.9 775.6,277.9 777.4,277.9 779.2,277.9 781.0,277.9 782.8,277.9 784.6,277.9 786.4,277.9 788.2,277.9 790.0,277.9 791.8,277.9 793.7,277.9 795.5,277.9 797.3,277.9 799.1,277.9 800.9,277.9 802.7,297.9 804.5,277.9 806.3,277.9 808.1,277.9 809.9,277.9 811.7,277.9 813.5,277.9 815.3,277.9 817.1,277.9 819.0,277.9 820.8,277.9 822.6,277.9 824.4,277.9 826.2,277.9 828.0,277.9 829.8,277.9 831.6,277.9 833.4,277.9 835.2,277.9 837.0,277.9 838.8,277.9 840.6,277.9 842.5,277.9 844.3,277.9 846.1,277.9 847.9,277.9 849.7,277.9 851.5,277.9 853.3,277.9 855.1,277.9 856.9,277.9 858.7,277.9 860.5,277.9 862.3,277.9 864.1,277.9 866.0,277.9 867.8,277.9 869.6,277.9 871.4,277.9 873.2,277.9 875.0,277.9 876.8,277.9 878.6,277.9 880.4,277.9 882.2,277.9 884.0,277.9 885.8,277.9 887.6,277.9 889.4,277.9 891.3,277.9 893.1,277.9" fill="none" stroke="#ED7D31" stroke-width="2.6" stroke-linejoin="round"/>
<rect x="71.9" y="270.2" width="813.4" height="15.5" fill="#ED7D31"/>
<g fill="none" stroke="#ED7D31" stroke-width="2.0" stroke-linejoin="round">
<rect x="72.9" y="271.2" width="13.5" height="13.5"/>
<rect x="74.7" y="271.2" width="13.5" height="13.5"/>
<rect x="76.6" y="271.2" width="13.5" height="13.5"/>
<rect x="78.4" y="271.2" width="13.5" height="13.5"/>
<rect x="80.2" y="271.2" width="13.5" height="13.5"/>
<rect x="82.0" y="271.2" width="13.5" height="13.5"/>
<rect x="83.8" y="271.2" width="13.5" height="13.5"/>
<rect x="85.6" y="271.2" width="13.5" height="13.5"/>
<rect x="87.4" y="271.2" width="13.5" height="13.5"/>
<rect x="89.2" y="271.2" width="13.5" height="13.5"/>
<rect x="91.0" y="271.2" width="13.5" height="13.5"/>
<rect x="92.8" y="271.2" width="13.5" height="13.5"/>
<rect x="94.6" y="271.2" width="13.5" height="13.5"/>
<rect x="96.4" y="271.2" width="13.5" height="13.5"/>
<rect x="98.2" y="271.2" width="13.5" height="13.5"/>
<rect x="100.0" y="271.2" width="13.5" height="13.5"/>
<rect x="101.9" y="271.2" width="13.5" height="13.5"/>
<rect x="103.7" y="271.2" width="13.5" height="13.5"/>
<rect x="105.5" y="271.2" width="13.5" height="13.5"/>
<rect x="107.3" y="271.2" width="13.5" height="13.5"/>
<rect x="109.1" y="323.4" width="13.5" height="13.5"/>
<rect x="110.9" y="271.2" width="13.5" height="13.5"/>
<rect x="112.7" y="271.2" width="13.5" height="13.5"/>
<rect x="114.5" y="271.2" width="13.5" height="13.5"/>
<rect x="116.3" y="271.2" width="13.5" height="13.5"/>
<rect x="118.1" y="271.2" width="13.5" height="13.5"/>
<rect x="119.9" y="271.2" width="13.5" height="13.5"/>
<rect x="121.7" y="271.2" width="13.5" height="13.5"/>
<rect x="123.5" y="271.2" width="13.5" height="13.5"/>
<rect x="125.4" y="271.2" width="13.5" height="13.5"/>
<rect x="127.2" y="271.2" width="13.5" height="13.5"/>
<rect x="129.0" y="271.2" width="13.5" height="13.5"/>
<rect x="130.8" y="271.2" width="13.5" height="13.5"/>
<rect x="132.6" y="271.2" width="13.5" height="13.5"/>
<rect x="134.4" y="271.2" width="13.5" height="13.5"/>
<rect x="136.2" y="271.2" width="13.5" height="13.5"/>
<rect x="138.0" y="314.7" width="13.5" height="13.5"/>
<rect x="139.8" y="271.2" width="13.5" height="13.5"/>
<rect x="141.6" y="271.2" width="13.5" height="13.5"/>
<rect x="143.4" y="271.2" width="13.5" height="13.5"/>
<rect x="145.2" y="271.2" width="13.5" height="13.5"/>
<rect x="147.0" y="271.2" width="13.5" height="13.5"/>
<rect x="148.9" y="271.2" width="13.5" height="13.5"/>
<rect x="150.7" y="271.2" width="13.5" height="13.5"/>
<rect x="152.5" y="271.2" width="13.5" height="13.5"/>
<rect x="154.3" y="271.2" width="13.5" height="13.5"/>
<rect x="156.1" y="271.2" width="13.5" height="13.5"/>
<rect x="157.9" y="271.2" width="13.5" height="13.5"/>
<rect x="159.7" y="271.2" width="13.5" height="13.5"/>
<rect x="161.5" y="271.2" width="13.5" height="13.5"/>
<rect x="163.3" y="271.2" width="13.5" height="13.5"/>
<rect x="165.1" y="271.2" width="13.5" height="13.5"/>
<rect x="166.9" y="271.2" width="13.5" height="13.5"/>
<rect x="168.7" y="271.2" width="13.5" height="13.5"/>
<rect x="170.5" y="271.2" width="13.5" height="13.5"/>
<rect x="172.3" y="271.2" width="13.5" height="13.5"/>
<rect x="174.2" y="271.2" width="13.5" height="13.5"/>
<rect x="176.0" y="271.2" width="13.5" height="13.5"/>
<rect x="177.8" y="271.2" width="13.5" height="13.5"/>
<rect x="179.6" y="271.2" width="13.5" height="13.5"/>
<rect x="181.4" y="271.2" width="13.5" height="13.5"/>
<rect x="183.2" y="271.2" width="13.5" height="13.5"/>
<rect x="185.0" y="271.2" width="13.5" height="13.5"/>
<rect x="186.8" y="271.2" width="13.5" height="13.5"/>
<rect x="188.6" y="271.2" width="13.5" height="13.5"/>
<rect x="190.4" y="271.2" width="13.5" height="13.5"/>
<rect x="192.2" y="271.2" width="13.5" height="13.5"/>
<rect x="194.0" y="271.2" width="13.5" height="13.5"/>
<rect x="195.8" y="271.2" width="13.5" height="13.5"/>
<rect x="197.7" y="271.2" width="13.5" height="13.5"/>
<rect x="199.5" y="271.2" width="13.5" height="13.5"/>
<rect x="201.3" y="271.2" width="13.5" height="13.5"/>
<rect x="203.1" y="271.2" width="13.5" height="13.5"/>
<rect x="204.9" y="271.2" width="13.5" height="13.5"/>
<rect x="206.7" y="271.2" width="13.5" height="13.5"/>
<rect x="208.5" y="271.2" width="13.5" height="13.5"/>
<rect x="210.3" y="271.2" width="13.5" height="13.5"/>
<rect x="212.1" y="271.2" width="13.5" height="13.5"/>
<rect x="213.9" y="271.2" width="13.5" height="13.5"/>
<rect x="215.7" y="271.2" width="13.5" height="13.5"/>
<rect x="217.5" y="271.2" width="13.5" height="13.5"/>
<rect x="219.3" y="271.2" width="13.5" height="13.5"/>
<rect x="221.2" y="271.2" width="13.5" height="13.5"/>
<rect x="223.0" y="271.2" width="13.5" height="13.5"/>
<rect x="224.8" y="271.2" width="13.5" height="13.5"/>
<rect x="226.6" y="271.2" width="13.5" height="13.5"/>
<rect x="228.4" y="271.2" width="13.5" height="13.5"/>
<rect x="230.2" y="271.2" width="13.5" height="13.5"/>
<rect x="232.0" y="271.2" width="13.5" height="13.5"/>
<rect x="233.8" y="271.2" width="13.5" height="13.5"/>
<rect x="235.6" y="271.2" width="13.5" height="13.5"/>
<rect x="237.4" y="271.2" width="13.5" height="13.5"/>
<rect x="239.2" y="271.2" width="13.5" height="13.5"/>
<rect x="241.0" y="271.2" width="13.5" height="13.5"/>
<rect x="242.8" y="271.2" width="13.5" height="13.5"/>
<rect x="244.7" y="271.2" width="13.5" height="13.5"/>
<rect x="246.5" y="271.2" width="13.5" height="13.5"/>
<rect x="248.3" y="271.2" width="13.5" height="13.5"/>
<rect x="250.1" y="271.2" width="13.5" height="13.5"/>
<rect x="251.9" y="271.2" width="13.5" height="13.5"/>
<rect x="253.7" y="271.2" width="13.5" height="13.5"/>
<rect x="255.5" y="271.2" width="13.5" height="13.5"/>
<rect x="257.3" y="271.2" width="13.5" height="13.5"/>
<rect x="259.1" y="271.2" width="13.5" height="13.5"/>
<rect x="260.9" y="271.2" width="13.5" height="13.5"/>
<rect x="262.7" y="271.2" width="13.5" height="13.5"/>
<rect x="264.5" y="271.2" width="13.5" height="13.5"/>
<rect x="266.3" y="271.2" width="13.5" height="13.5"/>
<rect x="268.1" y="271.2" width="13.5" height="13.5"/>
<rect x="270.0" y="271.2" width="13.5" height="13.5"/>
<rect x="271.8" y="271.2" width="13.5" height="13.5"/>
<rect x="273.6" y="271.2" width="13.5" height="13.5"/>
<rect x="275.4" y="271.2" width="13.5" height="13.5"/>
<rect x="277.2" y="271.2" width="13.5" height="13.5"/>
<rect x="279.0" y="271.2" width="13.5" height="13.5"/>
<rect x="280.8" y="271.2" width="13.5" height="13.5"/>
<rect x="282.6" y="271.2" width="13.5" height="13.5"/>
<rect x="284.4" y="297.3" width="13.5" height="13.5"/>
<rect x="286.2" y="271.2" width="13.5" height="13.5"/>
<rect x="288.0" y="271.2" width="13.5" height="13.5"/>
<rect x="289.8" y="271.2" width="13.5" height="13.5"/>
<rect x="291.6" y="271.2" width="13.5" height="13.5"/>
<rect x="293.5" y="271.2" width="13.5" height="13.5"/>
<rect x="295.3" y="271.2" width="13.5" height="13.5"/>
<rect x="297.1" y="271.2" width="13.5" height="13.5"/>
<rect x="298.9" y="271.2" width="13.5" height="13.5"/>
<rect x="300.7" y="271.2" width="13.5" height="13.5"/>
<rect x="302.5" y="271.2" width="13.5" height="13.5"/>
<rect x="304.3" y="271.2" width="13.5" height="13.5"/>
<rect x="306.1" y="271.2" width="13.5" height="13.5"/>
<rect x="307.9" y="271.2" width="13.5" height="13.5"/>
<rect x="309.7" y="271.2" width="13.5" height="13.5"/>
<rect x="311.5" y="271.2" width="13.5" height="13.5"/>
<rect x="313.3" y="271.2" width="13.5" height="13.5"/>
<rect x="315.1" y="271.2" width="13.5" height="13.5"/>
<rect x="317.0" y="271.2" width="13.5" height="13.5"/>
<rect x="318.8" y="271.2" width="13.5" height="13.5"/>
<rect x="320.6" y="271.2" width="13.5" height="13.5"/>
<rect x="322.4" y="271.2" width="13.5" height="13.5"/>
<rect x="324.2" y="271.2" width="13.5" height="13.5"/>
<rect x="326.0" y="290.3" width="13.5" height="13.5"/>
<rect x="327.8" y="271.2" width="13.5" height="13.5"/>
<rect x="329.6" y="271.2" width="13.5" height="13.5"/>
<rect x="331.4" y="271.2" width="13.5" height="13.5"/>
<rect x="333.2" y="271.2" width="13.5" height="13.5"/>
<rect x="335.0" y="271.2" width="13.5" height="13.5"/>
<rect x="336.8" y="271.2" width="13.5" height="13.5"/>
<rect x="338.6" y="271.2" width="13.5" height="13.5"/>
<rect x="340.4" y="271.2" width="13.5" height="13.5"/>
<rect x="342.3" y="271.2" width="13.5" height="13.5"/>
<rect x="344.1" y="271.2" width="13.5" height="13.5"/>
<rect x="345.9" y="271.2" width="13.5" height="13.5"/>
<rect x="347.7" y="271.2" width="13.5" height="13.5"/>
<rect x="349.5" y="271.2" width="13.5" height="13.5"/>
<rect x="351.3" y="271.2" width="13.5" height="13.5"/>
<rect x="353.1" y="271.2" width="13.5" height="13.5"/>
<rect x="354.9" y="271.2" width="13.5" height="13.5"/>
<rect x="356.7" y="271.2" width="13.5" height="13.5"/>
<rect x="358.5" y="271.2" width="13.5" height="13.5"/>
<rect x="360.3" y="271.2" width="13.5" height="13.5"/>
<rect x="362.1" y="271.2" width="13.5" height="13.5"/>
<rect x="363.9" y="271.2" width="13.5" height="13.5"/>
<rect x="365.8" y="271.2" width="13.5" height="13.5"/>
<rect x="367.6" y="271.2" width="13.5" height="13.5"/>
<rect x="369.4" y="271.2" width="13.5" height="13.5"/>
<rect x="371.2" y="271.2" width="13.5" height="13.5"/>
<rect x="373.0" y="271.2" width="13.5" height="13.5"/>
<rect x="374.8" y="271.2" width="13.5" height="13.5"/>
<rect x="376.6" y="271.2" width="13.5" height="13.5"/>
<rect x="378.4" y="271.2" width="13.5" height="13.5"/>
<rect x="380.2" y="271.2" width="13.5" height="13.5"/>
<rect x="382.0" y="271.2" width="13.5" height="13.5"/>
<rect x="383.8" y="271.2" width="13.5" height="13.5"/>
<rect x="385.6" y="271.2" width="13.5" height="13.5"/>
<rect x="387.4" y="271.2" width="13.5" height="13.5"/>
<rect x="389.2" y="271.2" width="13.5" height="13.5"/>
<rect x="391.1" y="271.2" width="13.5" height="13.5"/>
<rect x="392.9" y="271.2" width="13.5" height="13.5"/>
<rect x="394.7" y="271.2" width="13.5" height="13.5"/>
<rect x="396.5" y="271.2" width="13.5" height="13.5"/>
<rect x="398.3" y="271.2" width="13.5" height="13.5"/>
<rect x="400.1" y="271.2" width="13.5" height="13.5"/>
<rect x="401.9" y="271.2" width="13.5" height="13.5"/>
<rect x="403.7" y="271.2" width="13.5" height="13.5"/>
<rect x="405.5" y="271.2" width="13.5" height="13.5"/>
<rect x="407.3" y="271.2" width="13.5" height="13.5"/>
<rect x="409.1" y="271.2" width="13.5" height="13.5"/>
<rect x="410.9" y="271.2" width="13.5" height="13.5"/>
<rect x="412.7" y="271.2" width="13.5" height="13.5"/>
<rect x="414.6" y="271.2" width="13.5" height="13.5"/>
<rect x="416.4" y="271.2" width="13.5" height="13.5"/>
<rect x="418.2" y="271.2" width="13.5" height="13.5"/>
<rect x="420.0" y="271.2" width="13.5" height="13.5"/>
<rect x="421.8" y="271.2" width="13.5" height="13.5"/>
<rect x="423.6" y="271.2" width="13.5" height="13.5"/>
<rect x="425.4" y="271.2" width="13.5" height="13.5"/>
<rect x="427.2" y="271.2" width="13.5" height="13.5"/>
<rect x="429.0" y="271.2" width="13.5" height="13.5"/>
<rect x="430.8" y="309.4" width="13.5" height="13.5"/>
<rect x="432.6" y="271.2" width="13.5" height="13.5"/>
<rect x="434.4" y="271.2" width="13.5" height="13.5"/>
<rect x="436.2" y="271.2" width="13.5" height="13.5"/>
<rect x="438.1" y="271.2" width="13.5" height="13.5"/>
<rect x="439.9" y="271.2" width="13.5" height="13.5"/>
<rect x="441.7" y="271.2" width="13.5" height="13.5"/>
<rect x="443.5" y="271.2" width="13.5" height="13.5"/>
<rect x="445.3" y="271.2" width="13.5" height="13.5"/>
<rect x="447.1" y="271.2" width="13.5" height="13.5"/>
<rect x="448.9" y="271.2" width="13.5" height="13.5"/>
<rect x="450.7" y="271.2" width="13.5" height="13.5"/>
<rect x="452.5" y="271.2" width="13.5" height="13.5"/>
<rect x="454.3" y="271.2" width="13.5" height="13.5"/>
<rect x="456.1" y="271.2" width="13.5" height="13.5"/>
<rect x="457.9" y="271.2" width="13.5" height="13.5"/>
<rect x="459.7" y="271.2" width="13.5" height="13.5"/>
<rect x="461.6" y="271.2" width="13.5" height="13.5"/>
<rect x="463.4" y="271.2" width="13.5" height="13.5"/>
<rect x="465.2" y="271.2" width="13.5" height="13.5"/>
<rect x="467.0" y="271.2" width="13.5" height="13.5"/>
<rect x="468.8" y="306.0" width="13.5" height="13.5"/>
<rect x="470.6" y="271.2" width="13.5" height="13.5"/>
<rect x="472.4" y="271.2" width="13.5" height="13.5"/>
<rect x="474.2" y="271.2" width="13.5" height="13.5"/>
<rect x="476.0" y="271.2" width="13.5" height="13.5"/>
<rect x="477.8" y="271.2" width="13.5" height="13.5"/>
<rect x="479.6" y="336.4" width="13.5" height="13.5"/>
<rect x="481.4" y="271.2" width="13.5" height="13.5"/>
<rect x="483.2" y="271.2" width="13.5" height="13.5"/>
<rect x="485.0" y="271.2" width="13.5" height="13.5"/>
<rect x="486.9" y="271.2" width="13.5" height="13.5"/>
<rect x="488.7" y="271.2" width="13.5" height="13.5"/>
<rect x="490.5" y="271.2" width="13.5" height="13.5"/>
<rect x="492.3" y="271.2" width="13.5" height="13.5"/>
<rect x="494.1" y="271.2" width="13.5" height="13.5"/>
<rect x="495.9" y="271.2" width="13.5" height="13.5"/>
<rect x="497.7" y="271.2" width="13.5" height="13.5"/>
<rect x="499.5" y="271.2" width="13.5" height="13.5"/>
<rect x="501.3" y="271.2" width="13.5" height="13.5"/>
<rect x="503.1" y="271.2" width="13.5" height="13.5"/>
<rect x="504.9" y="271.2" width="13.5" height="13.5"/>
<rect x="506.7" y="271.2" width="13.5" height="13.5"/>
<rect x="508.5" y="271.2" width="13.5" height="13.5"/>
<rect x="510.4" y="271.2" width="13.5" height="13.5"/>
<rect x="512.2" y="271.2" width="13.5" height="13.5"/>
<rect x="514.0" y="271.2" width="13.5" height="13.5"/>
<rect x="515.8" y="271.2" width="13.5" height="13.5"/>
<rect x="517.6" y="271.2" width="13.5" height="13.5"/>
<rect x="519.4" y="271.2" width="13.5" height="13.5"/>
<rect x="521.2" y="271.2" width="13.5" height="13.5"/>
<rect x="523.0" y="271.2" width="13.5" height="13.5"/>
<rect x="524.8" y="271.2" width="13.5" height="13.5"/>
<rect x="526.6" y="271.2" width="13.5" height="13.5"/>
<rect x="528.4" y="271.2" width="13.5" height="13.5"/>
<rect x="530.2" y="271.2" width="13.5" height="13.5"/>
<rect x="532.0" y="271.2" width="13.5" height="13.5"/>
<rect x="533.9" y="271.2" width="13.5" height="13.5"/>
<rect x="535.7" y="271.2" width="13.5" height="13.5"/>
<rect x="537.5" y="271.2" width="13.5" height="13.5"/>
<rect x="539.3" y="271.2" width="13.5" height="13.5"/>
<rect x="541.1" y="271.2" width="13.5" height="13.5"/>
<rect x="542.9" y="271.2" width="13.5" height="13.5"/>
<rect x="544.7" y="271.2" width="13.5" height="13.5"/>
<rect x="546.5" y="271.2" width="13.5" height="13.5"/>
<rect x="548.3" y="271.2" width="13.5" height="13.5"/>
<rect x="550.1" y="271.2" width="13.5" height="13.5"/>
<rect x="551.9" y="271.2" width="13.5" height="13.5"/>
<rect x="553.7" y="271.2" width="13.5" height="13.5"/>
<rect x="555.5" y="271.2" width="13.5" height="13.5"/>
<rect x="557.3" y="271.2" width="13.5" height="13.5"/>
<rect x="559.2" y="271.2" width="13.5" height="13.5"/>
<rect x="561.0" y="271.2" width="13.5" height="13.5"/>
<rect x="562.8" y="271.2" width="13.5" height="13.5"/>
<rect x="564.6" y="271.2" width="13.5" height="13.5"/>
<rect x="566.4" y="271.2" width="13.5" height="13.5"/>
<rect x="568.2" y="271.2" width="13.5" height="13.5"/>
<rect x="570.0" y="271.2" width="13.5" height="13.5"/>
<rect x="571.8" y="271.2" width="13.5" height="13.5"/>
<rect x="573.6" y="271.2" width="13.5" height="13.5"/>
<rect x="575.4" y="271.2" width="13.5" height="13.5"/>
<rect x="577.2" y="271.2" width="13.5" height="13.5"/>
<rect x="579.0" y="271.2" width="13.5" height="13.5"/>
<rect x="580.8" y="271.2" width="13.5" height="13.5"/>
<rect x="582.7" y="271.2" width="13.5" height="13.5"/>
<rect x="584.5" y="271.2" width="13.5" height="13.5"/>
<rect x="586.3" y="271.2" width="13.5" height="13.5"/>
<rect x="588.1" y="271.2" width="13.5" height="13.5"/>
<rect x="589.9" y="271.2" width="13.5" height="13.5"/>
<rect x="591.7" y="323.4" width="13.5" height="13.5"/>
<rect x="593.5" y="271.2" width="13.5" height="13.5"/>
<rect x="595.3" y="319.9" width="13.5" height="13.5"/>
<rect x="597.1" y="271.2" width="13.5" height="13.5"/>
<rect x="598.9" y="271.2" width="13.5" height="13.5"/>
<rect x="600.7" y="271.2" width="13.5" height="13.5"/>
<rect x="602.5" y="271.2" width="13.5" height="13.5"/>
<rect x="604.3" y="271.2" width="13.5" height="13.5"/>
<rect x="606.1" y="271.2" width="13.5" height="13.5"/>
<rect x="608.0" y="271.2" width="13.5" height="13.5"/>
<rect x="609.8" y="271.2" width="13.5" height="13.5"/>
<rect x="611.6" y="271.2" width="13.5" height="13.5"/>
<rect x="613.4" y="271.2" width="13.5" height="13.5"/>
<rect x="615.2" y="271.2" width="13.5" height="13.5"/>
<rect x="617.0" y="271.2" width="13.5" height="13.5"/>
<rect x="618.8" y="271.2" width="13.5" height="13.5"/>
<rect x="620.6" y="271.2" width="13.5" height="13.5"/>
<rect x="622.4" y="271.2" width="13.5" height="13.5"/>
<rect x="624.2" y="271.2" width="13.5" height="13.5"/>
<rect x="626.0" y="271.2" width="13.5" height="13.5"/>
<rect x="627.8" y="271.2" width="13.5" height="13.5"/>
<rect x="629.6" y="271.2" width="13.5" height="13.5"/>
<rect x="631.5" y="271.2" width="13.5" height="13.5"/>
<rect x="633.3" y="271.2" width="13.5" height="13.5"/>
<rect x="635.1" y="271.2" width="13.5" height="13.5"/>
<rect x="636.9" y="271.2" width="13.5" height="13.5"/>
<rect x="638.7" y="271.2" width="13.5" height="13.5"/>
<rect x="640.5" y="271.2" width="13.5" height="13.5"/>
<rect x="642.3" y="271.2" width="13.5" height="13.5"/>
<rect x="644.1" y="271.2" width="13.5" height="13.5"/>
<rect x="645.9" y="271.2" width="13.5" height="13.5"/>
<rect x="647.7" y="271.2" width="13.5" height="13.5"/>
<rect x="649.5" y="271.2" width="13.5" height="13.5"/>
<rect x="651.3" y="271.2" width="13.5" height="13.5"/>
<rect x="653.1" y="271.2" width="13.5" height="13.5"/>
<rect x="655.0" y="271.2" width="13.5" height="13.5"/>
<rect x="656.8" y="271.2" width="13.5" height="13.5"/>
<rect x="658.6" y="271.2" width="13.5" height="13.5"/>
<rect x="660.4" y="271.2" width="13.5" height="13.5"/>
<rect x="662.2" y="271.2" width="13.5" height="13.5"/>
<rect x="664.0" y="271.2" width="13.5" height="13.5"/>
<rect x="665.8" y="271.2" width="13.5" height="13.5"/>
<rect x="667.6" y="271.2" width="13.5" height="13.5"/>
<rect x="669.4" y="271.2" width="13.5" height="13.5"/>
<rect x="671.2" y="271.2" width="13.5" height="13.5"/>
<rect x="673.0" y="271.2" width="13.5" height="13.5"/>
<rect x="674.8" y="271.2" width="13.5" height="13.5"/>
<rect x="676.6" y="271.2" width="13.5" height="13.5"/>
<rect x="678.5" y="271.2" width="13.5" height="13.5"/>
<rect x="680.3" y="271.2" width="13.5" height="13.5"/>
<rect x="682.1" y="271.2" width="13.5" height="13.5"/>
<rect x="683.9" y="312.1" width="13.5" height="13.5"/>
<rect x="685.7" y="271.2" width="13.5" height="13.5"/>
<rect x="687.5" y="271.2" width="13.5" height="13.5"/>
<rect x="689.3" y="271.2" width="13.5" height="13.5"/>
<rect x="691.1" y="271.2" width="13.5" height="13.5"/>
<rect x="692.9" y="271.2" width="13.5" height="13.5"/>
<rect x="694.7" y="271.2" width="13.5" height="13.5"/>
<rect x="696.5" y="271.2" width="13.5" height="13.5"/>
<rect x="698.3" y="271.2" width="13.5" height="13.5"/>
<rect x="700.1" y="271.2" width="13.5" height="13.5"/>
<rect x="701.9" y="271.2" width="13.5" height="13.5"/>
<rect x="703.8" y="271.2" width="13.5" height="13.5"/>
<rect x="705.6" y="271.2" width="13.5" height="13.5"/>
<rect x="707.4" y="271.2" width="13.5" height="13.5"/>
<rect x="709.2" y="271.2" width="13.5" height="13.5"/>
<rect x="711.0" y="271.2" width="13.5" height="13.5"/>
<rect x="712.8" y="271.2" width="13.5" height="13.5"/>
<rect x="714.6" y="271.2" width="13.5" height="13.5"/>
<rect x="716.4" y="271.2" width="13.5" height="13.5"/>
<rect x="718.2" y="271.2" width="13.5" height="13.5"/>
<rect x="720.0" y="271.2" width="13.5" height="13.5"/>
<rect x="721.8" y="271.2" width="13.5" height="13.5"/>
<rect x="723.6" y="271.2" width="13.5" height="13.5"/>
<rect x="725.4" y="271.2" width="13.5" height="13.5"/>
<rect x="727.3" y="271.2" width="13.5" height="13.5"/>
<rect x="729.1" y="271.2" width="13.5" height="13.5"/>
<rect x="730.9" y="271.2" width="13.5" height="13.5"/>
<rect x="732.7" y="271.2" width="13.5" height="13.5"/>
<rect x="734.5" y="271.2" width="13.5" height="13.5"/>
<rect x="736.3" y="271.2" width="13.5" height="13.5"/>
<rect x="738.1" y="271.2" width="13.5" height="13.5"/>
<rect x="739.9" y="271.2" width="13.5" height="13.5"/>
<rect x="741.7" y="271.2" width="13.5" height="13.5"/>
<rect x="743.5" y="271.2" width="13.5" height="13.5"/>
<rect x="745.3" y="271.2" width="13.5" height="13.5"/>
<rect x="747.1" y="271.2" width="13.5" height="13.5"/>
<rect x="748.9" y="271.2" width="13.5" height="13.5"/>
<rect x="750.8" y="271.2" width="13.5" height="13.5"/>
<rect x="752.6" y="271.2" width="13.5" height="13.5"/>
<rect x="754.4" y="271.2" width="13.5" height="13.5"/>
<rect x="756.2" y="271.2" width="13.5" height="13.5"/>
<rect x="758.0" y="271.2" width="13.5" height="13.5"/>
<rect x="759.8" y="271.2" width="13.5" height="13.5"/>
<rect x="761.6" y="271.2" width="13.5" height="13.5"/>
<rect x="763.4" y="271.2" width="13.5" height="13.5"/>
<rect x="765.2" y="271.2" width="13.5" height="13.5"/>
<rect x="767.0" y="271.2" width="13.5" height="13.5"/>
<rect x="768.8" y="271.2" width="13.5" height="13.5"/>
<rect x="770.6" y="271.2" width="13.5" height="13.5"/>
<rect x="772.4" y="271.2" width="13.5" height="13.5"/>
<rect x="774.2" y="271.2" width="13.5" height="13.5"/>
<rect x="776.1" y="271.2" width="13.5" height="13.5"/>
<rect x="777.9" y="271.2" width="13.5" height="13.5"/>
<rect x="779.7" y="271.2" width="13.5" height="13.5"/>
<rect x="781.5" y="271.2" width="13.5" height="13.5"/>
<rect x="783.3" y="271.2" width="13.5" height="13.5"/>
<rect x="785.1" y="271.2" width="13.5" height="13.5"/>
<rect x="786.9" y="271.2" width="13.5" height="13.5"/>
<rect x="788.7" y="271.2" width="13.5" height="13.5"/>
<rect x="790.5" y="271.2" width="13.5" height="13.5"/>
<rect x="792.3" y="271.2" width="13.5" height="13.5"/>
<rect x="794.1" y="271.2" width="13.5" height="13.5"/>
<rect x="795.9" y="291.2" width="13.5" height="13.5"/>
<rect x="797.7" y="271.2" width="13.5" height="13.5"/>
<rect x="799.6" y="271.2" width="13.5" height="13.5"/>
<rect x="801.4" y="271.2" width="13.5" height="13.5"/>
<rect x="803.2" y="271.2" width="13.5" height="13.5"/>
<rect x="805.0" y="271.2" width="13.5" height="13.5"/>
<rect x="806.8" y="271.2" width="13.5" height="13.5"/>
<rect x="808.6" y="271.2" width="13.5" height="13.5"/>
<rect x="810.4" y="271.2" width="13.5" height="13.5"/>
<rect x="812.2" y="271.2" width="13.5" height="13.5"/>
<rect x="814.0" y="271.2" width="13.5" height="13.5"/>
<rect x="815.8" y="271.2" width="13.5" height="13.5"/>
<rect x="817.6" y="271.2" width="13.5" height="13.5"/>
<rect x="819.4" y="271.2" width="13.5" height="13.5"/>
<rect x="821.2" y="271.2" width="13.5" height="13.5"/>
<rect x="823.1" y="271.2" width="13.5" height="13.5"/>
<rect x="824.9" y="271.2" width="13.5" height="13.5"/>
<rect x="826.7" y="271.2" width="13.5" height="13.5"/>
<rect x="828.5" y="271.2" width="13.5" height="13.5"/>
<rect x="830.3" y="271.2" width="13.5" height="13.5"/>
<rect x="832.1" y="271.2" width="13.5" height="13.5"/>
<rect x="833.9" y="271.2" width="13.5" height="13.5"/>
<rect x="835.7" y="271.2" width="13.5" height="13.5"/>
<rect x="837.5" y="271.2" width="13.5" height="13.5"/>
<rect x="839.3" y="271.2" width="13.5" height="13.5"/>
<rect x="841.1" y="271.2" width="13.5" height="13.5"/>
<rect x="842.9" y="271.2" width="13.5" height="13.5"/>
<rect x="844.7" y="271.2" width="13.5" height="13.5"/>
<rect x="846.5" y="271.2" width="13.5" height="13.5"/>
<rect x="848.4" y="271.2" width="13.5" height="13.5"/>
<rect x="850.2" y="271.2" width="13.5" height="13.5"/>
<rect x="852.0" y="271.2" width="13.5" height="13.5"/>
<rect x="853.8" y="271.2" width="13.5" height="13.5"/>
<rect x="855.6" y="271.2" width="13.5" height="13.5"/>
<rect x="857.4" y="271.2" width="13.5" height="13.5"/>
<rect x="859.2" y="271.2" width="13.5" height="13.5"/>
<rect x="861.0" y="271.2" width="13.5" height="13.5"/>
<rect x="862.8" y="271.2" width="13.5" height="13.5"/>
<rect x="864.6" y="271.2" width="13.5" height="13.5"/>
<rect x="866.4" y="271.2" width="13.5" height="13.5"/>
<rect x="868.2" y="271.2" width="13.5" height="13.5"/>
<rect x="870.0" y="271.2" width="13.5" height="13.5"/>
<rect x="871.9" y="271.2" width="13.5" height="13.5"/>
<rect x="873.7" y="271.2" width="13.5" height="13.5"/>
<rect x="875.5" y="271.2" width="13.5" height="13.5"/>
<rect x="877.3" y="271.2" width="13.5" height="13.5"/>
<rect x="879.1" y="271.2" width="13.5" height="13.5"/>
<rect x="880.9" y="271.2" width="13.5" height="13.5"/>
<rect x="882.7" y="271.2" width="13.5" height="13.5"/>
<rect x="884.5" y="271.2" width="13.5" height="13.5"/>
<rect x="886.3" y="271.2" width="13.5" height="13.5"/>
</g>
<g font-family="Liberation Sans, Arial, sans-serif" font-size="26" fill="#595959">
<text transform="translate(57.8,547.4) scale(1,1.08)" text-anchor="end">0</text>
<text transform="translate(57.8,460.4) scale(1,1.08)" text-anchor="end">1</text>
<text transform="translate(57.8,373.4) scale(1,1.08)" text-anchor="end">2</text>
<text transform="translate(57.8,286.4) scale(1,1.08)" text-anchor="end">3</text>
<text transform="translate(57.8,199.4) scale(1,1.08)" text-anchor="end">4</text>
<text transform="translate(57.8,112.5) scale(1,1.08)" text-anchor="end">5</text>
<text transform="translate(57.8,25.5) scale(1,1.08)" text-anchor="end">6</text>
<text transform="translate(78.2,578.6) scale(1,1.08)" text-anchor="middle">0</text>
<text transform="translate(259.0,578.6) scale(1,1.08)" text-anchor="middle">100</text>
<text transform="translate(439.7,578.6) scale(1,1.08)" text-anchor="middle">200</text>
<text transform="translate(620.4,578.6) scale(1,1.08)" text-anchor="middle">300</text>
<text transform="translate(801.1,578.6) scale(1,1.08)" text-anchor="middle">400</text>
<text transform="translate(981.8,578.6) scale(1,1.08)" text-anchor="middle">500</text>
</g>
<g font-family="Liberation Serif, Times New Roman, serif" fill="#595959">
<text x="783.3" y="603.1" font-size="29.1">Order of Samples</text>
<text transform="translate(24.5,272.7) rotate(-90)" font-size="28.92">Length of Sample(m)</text>
<text transform="translate(502,517.1) scale(1,1.08)" font-size="26">OS</text>
<text transform="translate(713.5,517.1) scale(1,1.08)" font-size="26">CS</text>
</g>
<line x1="439.8" y1="507.8" x2="496" y2="507.8" stroke="#92D050" stroke-width="1.7"/>
<circle cx="468.1" cy="508" r="8" fill="#92D050"/>
<line x1="652.2" y1="508.1" x2="707.2" y2="508.1" stroke="#ED7D31" stroke-width="2.4" stroke-linecap="round"/>
<rect x="673.1" y="501.4" width="14" height="14" fill="none" stroke="#ED7D31" stroke-width="2" stroke-linejoin="round"/>
</svg>
</body></html>
